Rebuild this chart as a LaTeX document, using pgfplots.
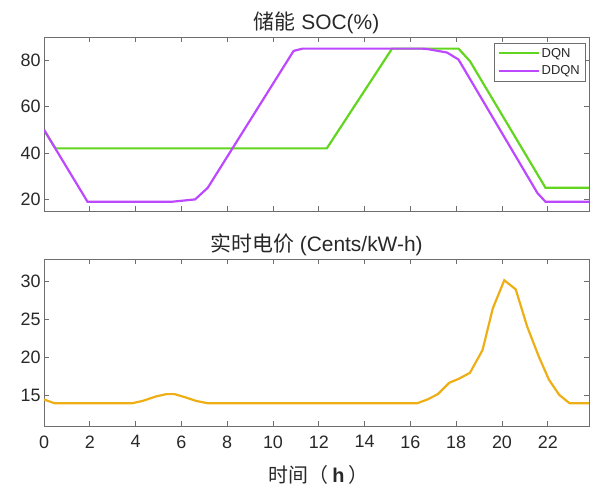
\documentclass[border=0pt]{standalone}
\usepackage{pgfplots}
\pgfplotsset{compat=1.18}
\usepackage{fontspec}
\setmainfont{Liberation Sans}
\newfontfamily\cjk{Noto Sans CJK SC}
\definecolor{cgreen}{RGB}{98,214,30}
\definecolor{cpurple}{RGB}{188,72,255}
\definecolor{corange}{RGB}{238,174,22}
\definecolor{caxis}{RGB}{110,110,110}
\definecolor{ctext}{RGB}{40,40,40}
\pgfplotsset{
  common/.style={
    scale only axis,
    width=545bp,
    xmin=0, xmax=23.8,
    xtick={0,2,...,22},
    axis line style={caxis, line width=0.8pt},
    every tick/.style={caxis, line width=0.6pt},
    major tick length=5bp,
    tick align=inside,
    tick pos=both,
    ticklabel style={font=\fontsize{18}{20}\selectfont, text=ctext},
    xticklabel style={yshift=-6bp},
    /pgf/number format/assume math mode=true,
    title style={font=\fontsize{21}{23}\selectfont, text=ctext, yshift=-6bp},
    label style={font=\fontsize{20}{22}\selectfont, text=ctext},
  }
}
\begin{document}
\begin{tikzpicture}
\useasboundingbox (-44bp,-60bp) rectangle (553bp,426bp);
% bottom axis: price
\begin{axis}[common,
  at={(0,0)}, anchor=south west,
  height=167bp,
  ymin=11, ymax=33,
  ytick={15,20,25,30},
  title={{\cjk 实时电价} (Cents/kW-h)},
  xlabel={{\cjk 时间（}\hspace{4bp}\textbf{h}\hspace{4bp}{\cjk ）}},
  xlabel style={yshift=-10bp, xshift=2bp},
]
\addplot[corange, line width=2.2pt] coordinates {
(0,14.5)(0.45,14)(3.85,14)(4.3,14.3)(4.9,14.9)(5.35,15.2)(5.7,15.2)(6.15,14.8)
(6.65,14.3)(7.15,14)(16.3,14)(16.75,14.5)(17.2,15.2)(17.7,16.7)(18.1,17.2)
(18.6,18)(19.15,21)(19.6,26.5)(20.1,30.2)(20.6,29)(21.1,24.1)(21.6,20.2)
(22.05,17.1)(22.5,15.1)(22.95,14)(23.8,14)
};
\end{axis}
% top axis: SOC
\begin{axis}[common,
  at={(0,215bp)}, anchor=south west,
  height=174bp,
  ymin=15, ymax=90,
  ytick={20,40,60,80},
  xticklabels={},
  title={{\cjk 储能} SOC(\%)},
  legend style={at={(1,1)}, anchor=north east, xshift=-4bp, yshift=-6bp,
    font=\fontsize{13}{14}\selectfont, text=ctext, draw=caxis,
    inner sep=3bp, row sep=3bp},
  legend cell align=left,
  legend image code/.code={\draw[#1, line width=2pt] (0bp,0bp) -- (40bp,0bp);},
]
\addplot[cgreen, line width=2.2pt] coordinates {
(0,50)(0.5,42)(12.35,42)(15.2,85)(18.1,85)(18.6,79.6)(21.9,25)(23.8,25)
};
\addplot[cpurple, line width=2.2pt] coordinates {
(0,50)(1.9,19)(5.6,19)(6.6,20)(7.15,25)(10.9,84)(11.3,85)(16.5,85)(16.75,84.8)
(17.6,83.3)(18.1,80.3)(21.55,22.7)(21.9,19)(23.8,19)
};
\legend{DQN,DDQN}
\end{axis}
\end{tikzpicture}
\end{document}
